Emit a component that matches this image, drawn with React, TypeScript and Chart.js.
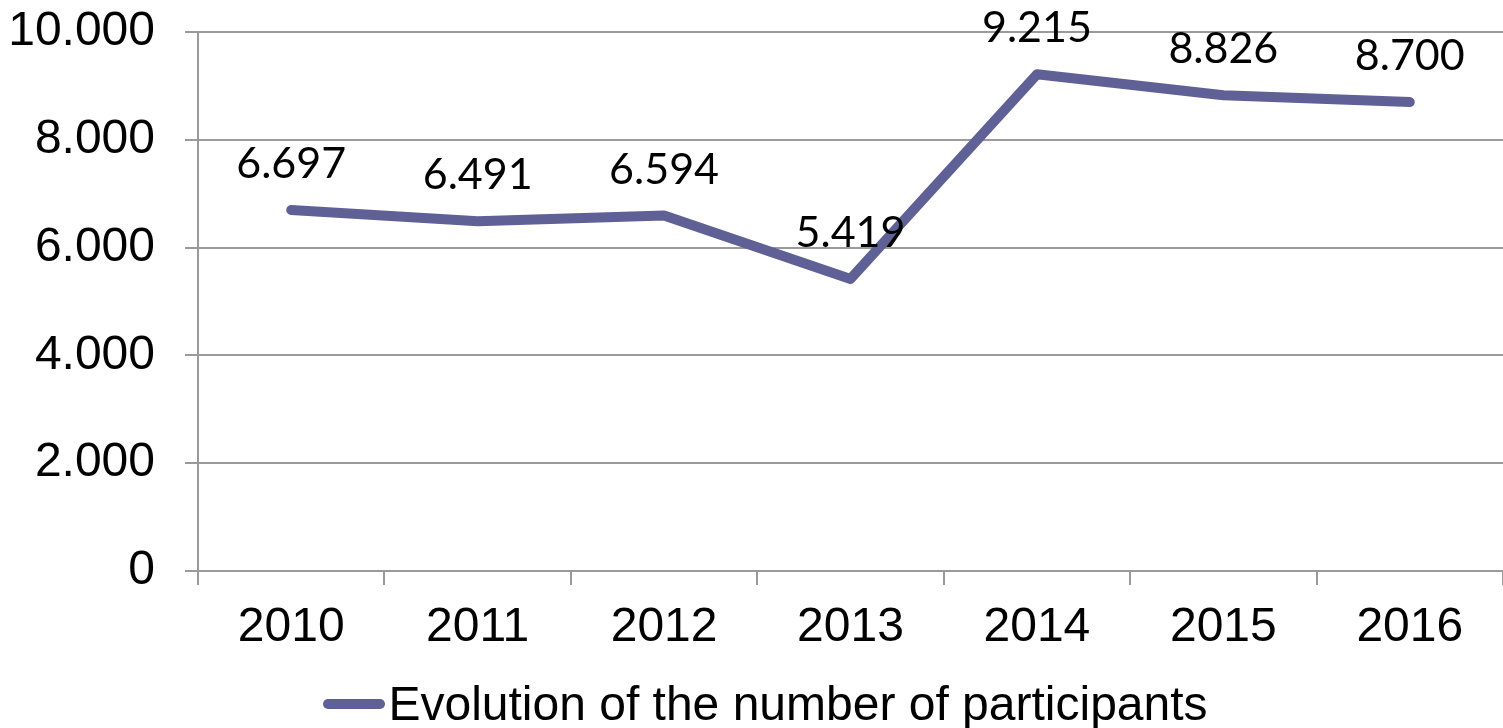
import React, { useEffect, useRef } from "react";
import { Chart, registerables } from "chart.js";

Chart.register(...registerables);

const years = ["2010", "2011", "2012", "2013", "2014", "2015", "2016"];
const participants = [6697, 6491, 6594, 5419, 9215, 8826, 8700];
const yMin = 0;
const yMax = 10000;
const yStep = 2000;
const seriesLabel = "Evolution of the number of participants";
const lineColor = "#5f6096";
const gridColor = "#9a9a9a";
const axisFont = "'Liberation Sans', Arial, sans-serif";
const labelFont = "Lato, 'Open Sans', sans-serif";

const fmt = (v: number) => String(v).replace(/\B(?=(\d{3})+(?!\d))/g, ".");

const valueLabels = {
  id: "valueLabels",
  afterDatasetsDraw(chart: any) {
    const ctx = chart.ctx;
    const meta = chart.getDatasetMeta(0);
    ctx.save();
    ctx.font = `43px ${labelFont}`;
    ctx.fillStyle = "#000";
    ctx.textAlign = "center";
    ctx.textBaseline = "alphabetic";
    meta.data.forEach((pt: any, i: number) => {
      ctx.fillText(fmt(participants[i]), pt.x, pt.y - 32);
    });
    ctx.restore();
  },
};

export default function App() {
  const ref = useRef<HTMLCanvasElement | null>(null);

  useEffect(() => {
    if (!ref.current) return;
    const chart = new Chart(ref.current, {
      type: "line",
      data: {
        labels: years,
        datasets: [
          {
            label: seriesLabel,
            data: participants,
            borderColor: lineColor,
            backgroundColor: lineColor,
            borderWidth: 10,
            borderCapStyle: "round",
            borderJoinStyle: "round",
            pointRadius: 0,
            pointHoverRadius: 0,
            tension: 0,
          },
        ],
      },
      options: {
        animation: false,
        responsive: true,
        maintainAspectRatio: false,
        layout: { padding: { top: 32, right: 0, left: 0, bottom: 0 } },
        plugins: {
          legend: { display: false },
          tooltip: { enabled: false },
        },
        scales: {
          x: {
            offset: true,
            grid: {
              offset: true,
              drawOnChartArea: false,
              drawTicks: true,
              tickLength: 14,
              color: gridColor,
              lineWidth: 2,
            },
            border: { color: gridColor, width: 2 },
            ticks: {
              font: { family: axisFont, size: 48 },
              color: "#000",
              padding: 14,
              maxRotation: 0,
              autoSkip: false,
            },
            afterFit: (s: any) => {
              s.height = 109;
              s.paddingLeft = 0;
              s.paddingRight = 0;
            },
          },
          y: {
            min: yMin,
            max: yMax,
            ticks: {
              stepSize: yStep,
              callback: (v: any) => fmt(Number(v)),
              font: { family: axisFont, size: 48 },
              color: "#000",
              padding: 30,
            },
            grid: { color: gridColor, lineWidth: 2, tickLength: 13 },
            border: { color: gridColor, width: 2 },
            afterFit: (s: any) => {
              s.width = 198;
              s.paddingTop = 0;
              s.paddingBottom = 0;
            },
          },
        },
      },
      plugins: [valueLabels],
    });
    return () => chart.destroy();
  }, []);

  return (
    <>
      <div style={{ position: "fixed", left: 0, top: 0, width: 1503, height: 680 }}>
        <canvas ref={ref} />
      </div>
      <div
        style={{
          position: "fixed",
          left: 0,
          top: 680,
          width: 1503,
          height: 48,
          display: "flex",
          alignItems: "center",
          justifyContent: "center",
          paddingLeft: 28,
          boxSizing: "border-box",
        }}
      >
        <span
          style={{
            display: "inline-block",
            width: 62,
            height: 10,
            borderRadius: 5,
            background: lineColor,
            marginRight: 3,
          }}
        />
        <span
          style={{
            fontFamily: axisFont,
            fontSize: 48,
            lineHeight: "48px",
            color: "#000",
            whiteSpace: "nowrap",
          }}
        >
          {seriesLabel}
        </span>
      </div>
    </>
  );
}
